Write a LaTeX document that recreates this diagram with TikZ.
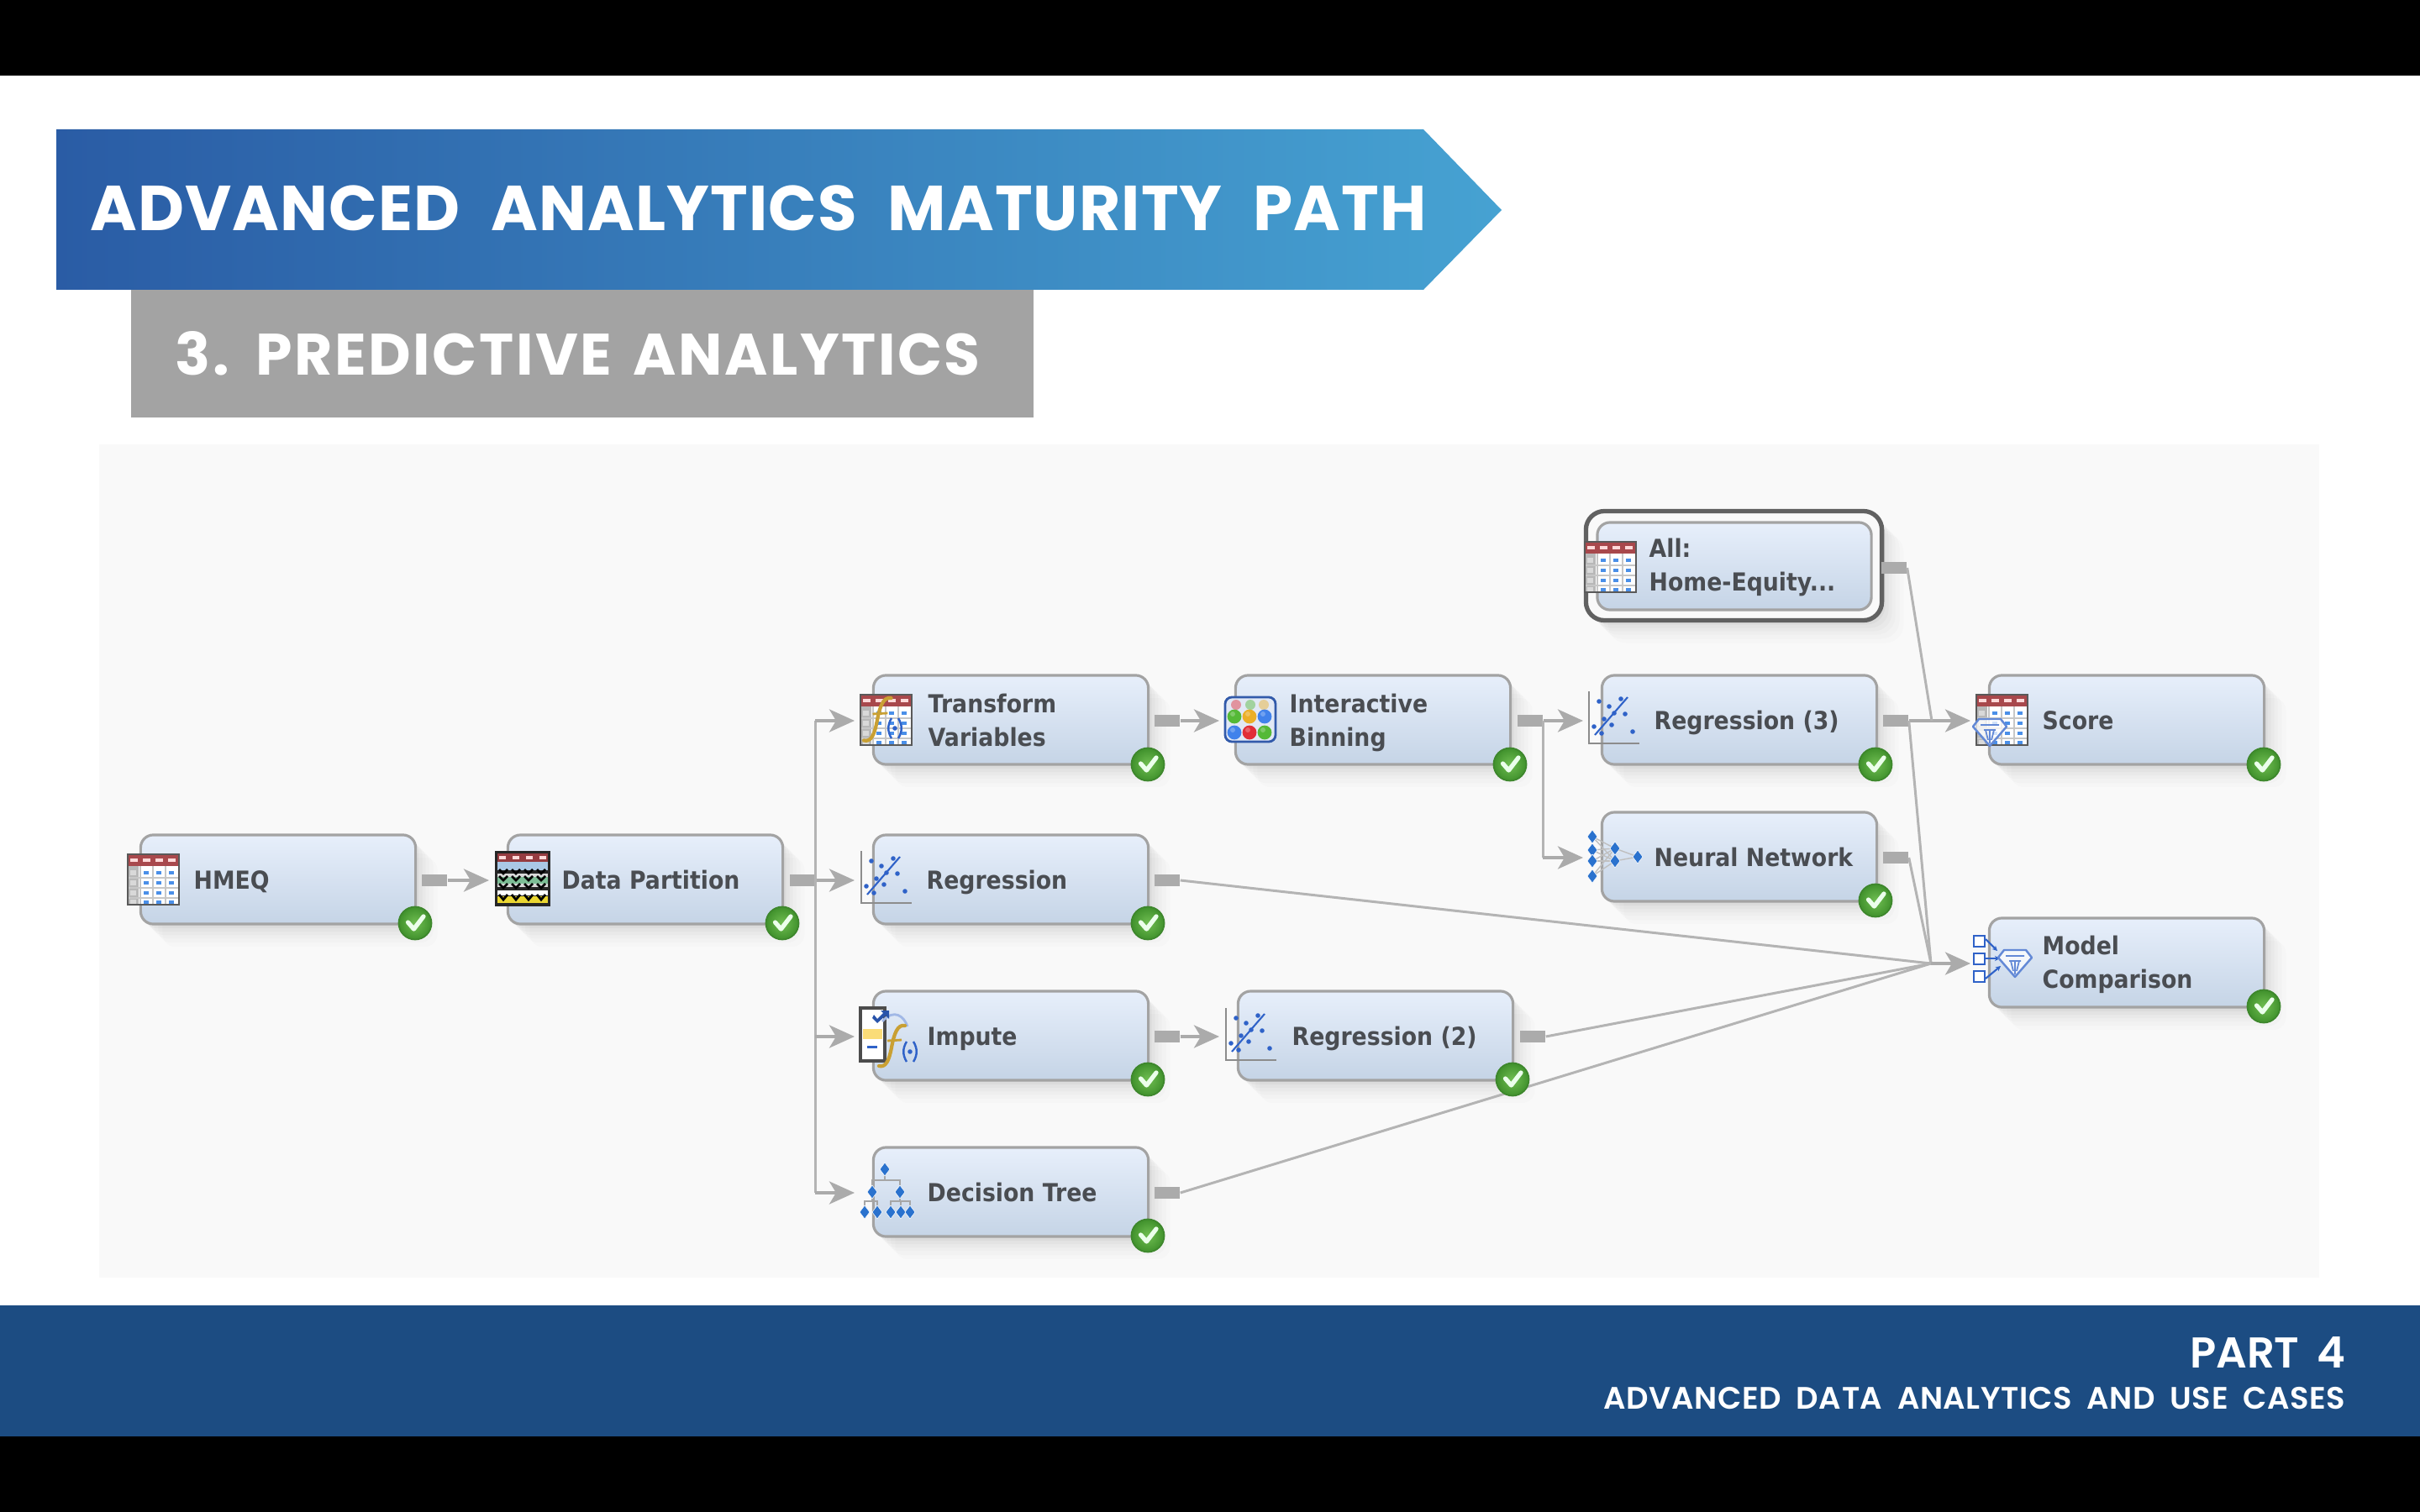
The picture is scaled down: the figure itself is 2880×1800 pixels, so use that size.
\documentclass[tikz,border=0pt]{standalone}
\usepackage{fontspec}
\setmainfont{Poppins}
\newfontfamily\titlefont{Poppins Bold}[LetterSpace=1.5,WordSpace=2.15]
\newfontfamily\subfont{Poppins Bold}[LetterSpace=3.6,WordSpace=1.5]
\newfontfamily\footfont{Poppins SemiBold}[LetterSpace=1.6,WordSpace=1.9]
\newfontfamily\partfont{Poppins SemiBold}[WordSpace=1.7]
\newfontfamily\boxfont{DejaVu Sans}[FakeStretch=0.905]
\usetikzlibrary{arrows.meta,shadows}
\definecolor{lnk}{HTML}{ABABAB}
\definecolor{lnkthin}{HTML}{B4B4B4}
\definecolor{tx}{HTML}{4A4D52}
\definecolor{icoblue}{HTML}{2F62C8}
\definecolor{celldot}{HTML}{4A8FE8}
\definecolor{gold}{HTML}{C9A033}
\definecolor{boxtop}{RGB}{231,239,251}
\definecolor{boxbot}{RGB}{197,212,230}
\definecolor{badgeline}{RGB}{62,135,45}
\definecolor{badgein}{RGB}{112,190,82}
\definecolor{badgeout}{RGB}{64,145,44}
\definecolor{cellred}{RGB}{168,72,76}
\definecolor{footblue}{RGB}{28,76,130}
\definecolor{banl}{RGB}{42,92,165}
\definecolor{banr}{RGB}{70,162,210}
\definecolor{subgray}{RGB}{163,163,163}
\definecolor{panel}{RGB}{249,249,249}
\definecolor{dpred}{RGB}{150,60,65}
\definecolor{dpblue}{RGB}{170,200,230}
\definecolor{dpgreen}{RGB}{125,190,150}
\definecolor{dpyellow}{RGB}{235,215,50}
\definecolor{imputey}{RGB}{250,220,120}
\definecolor{framef}{RGB}{225,232,245}
\definecolor{framed}{RGB}{50,90,170}
\definecolor{ballg}{RGB}{85,185,55}
\definecolor{ballo}{RGB}{235,175,40}
\definecolor{ballb}{RGB}{65,130,235}
\definecolor{ballr}{RGB}{225,45,55}
\tikzset{
 softshadow/.style={
  general shadow={fill=black,opacity=.012,shadow xshift=.26cm,shadow yshift=-.27cm},
  general shadow={fill=black,opacity=.014,shadow xshift=.21cm,shadow yshift=-.22cm},
  general shadow={fill=black,opacity=.016,shadow xshift=.16cm,shadow yshift=-.17cm},
  general shadow={fill=black,opacity=.02,shadow xshift=.12cm,shadow yshift=-.13cm},
  general shadow={fill=black,opacity=.025,shadow xshift=.08cm,shadow yshift=-.09cm},
  general shadow={fill=black,opacity=.03,shadow xshift=.04cm,shadow yshift=-.05cm}},
 flatbox/.style={draw=black!36,line width=.9pt,rounded corners=.15cm,minimum width=3.27cm,minimum height=1.06cm,inner sep=0pt,top color=boxtop,bottom color=boxbot},
 flowbox/.style={flatbox,softshadow},
 lab/.style={anchor=west,inner sep=0pt,yshift=-.035cm,text=tx,align=left,font=\boxfont\bfseries\fontsize{8.4}{11.2}\selectfont},
 port/.style={fill=lnk,minimum width=.30cm,minimum height=.14cm,inner sep=0pt},
 wire/.style={draw=lnkthin,line width=.85pt},
 arrowwire/.style={draw=lnk,line width=1.05pt,-{Stealth[length=.30cm,width=.27cm,inset=.08cm]}},
 badge/.style={circle,inner sep=0pt,minimum size=.39cm,draw=badgeline,line width=.5pt,inner color=badgein,outer color=badgeout},
}
% table icon, top-left at x,y, 61x60
\newcommand\tableicon[2]{\begin{scope}[shift={(#1,#2)}]
 \fill[white] (0,0) rectangle (61,60);
 \fill[cellred] (0,0) rectangle (61,14);
 \fill[black!28] (0,14) rectangle (13,60);
 \foreach \xx in {3,18,33,48}{\fill[white!85!red] (\xx,5) rectangle ++(9,4);}
 \foreach \yy in {22,34,46,57}{\fill[white!85!black] (3,\yy-3) rectangle ++(7,6);
  \foreach \xx in {22,37,52}{\fill[celldot] (\xx-3,\yy-2) rectangle ++(6,4);}}
 \foreach \xx in {15,30,45}{\draw[black!22,line width=.35pt] (\xx,14) -- (\xx,60);}
 \foreach \yy in {28,40,52}{\draw[black!22,line width=.35pt] (0,\yy) -- (61,\yy);}
 \draw[black!65,line width=.6pt] (0,0) rectangle (61,60);
\end{scope}}
% golden f
\newcommand\goldf[3]{\begin{scope}[shift={(#1,#2)},scale=#3]
 \draw[gold,line width=1.2pt,line cap=round] (0,50) .. controls (8,52) and (12,44) .. (15,28) .. controls (18,12) and (22,0) .. (31,2);
 \draw[gold,line width=.8pt] (10,20) -- (27,19);
\end{scope}}
% (.) glyph
\newcommand\parendot[2]{\begin{scope}[shift={(#1,#2)}]
 \draw[icoblue,line width=.7pt] (-4,-12) .. controls (-9,-4) and (-9,4) .. (-4,12);
 \draw[icoblue,line width=.7pt] (4,-12) .. controls (9,-4) and (9,4) .. (4,12);
 \fill[icoblue] (0,0) circle (2.8);
\end{scope}}
% regression icon, origin at axes corner
\newcommand\regicon[2]{\begin{scope}[shift={(#1,#2)}]
 \draw[black!45,line width=.7pt] (0,-62) -- (0,0) -- (60,0);
 \draw[icoblue,line width=.6pt] (7,-10) -- (46,-55);
 \foreach \px/\py in {12/-50,38/-53,43/-35,6/-20,18/-29,27/-22,15/-12,30/-36,52/-14,24/-44}{\fill[icoblue] (\px,\py) circle (2.8);}
\end{scope}}
\newcommand\bluediam[2]{\fill[icoblue!90!cyan,draw=white,line width=.15pt] (#1,#2-8) -- (#1+6,#2) -- (#1,#2+8) -- (#1-6,#2) -- cycle;}
\newcommand\gem[2]{\begin{scope}[shift={(#1,#2)}]
 \draw[icoblue!75!white,fill=white,fill opacity=.75,line width=.7pt,line join=round] (-13,-15) -- (13,-15) -- (20,-6) -- (0,17) -- (-20,-6) -- cycle;
 \draw[icoblue!75!white,line width=.5pt] (-11,-8) -- (11,-8) (-7,-2) -- (7,-2) (0,-2) -- (0,14) (-5,-2) -- (-2,10) (5,-2) -- (2,10);
\end{scope}}
\newcommand\checkmk[1]{\draw[white!92!green,line width=1.5pt,line cap=round,line join=round] ([xshift=-.085cm,yshift=.01cm]#1.center) -- ([xshift=-.015cm,yshift=-.07cm]#1.center) -- ([xshift=.10cm,yshift=.08cm]#1.center);}
\newcommand\st{\strut}
\begin{document}
\begin{tikzpicture}[x=.01cm,y=-.01cm]
\useasboundingbox (0,0) rectangle (2880,1800);
\fill[white] (0,0) rectangle (2880,1800);
\fill[black] (0,0) rectangle (2880,90);
\fill[black] (0,1710) rectangle (2880,1800);
\fill[footblue] (0,1554) rectangle (2880,1710);
% banner
\shade[left color=banl,right color=banr] (67,154) -- (1694,154) -- (1787,250) -- (1694,345) -- (67,345) -- cycle;
\fill[subgray] (156,345) rectangle (1230,497);
\node[anchor=west,inner sep=0pt,text=white,font=\titlefont\fontsize{21.5}{24}\selectfont] (title) at (107,248) {ADVANCED ANALYTICS MATURITY PATH};
\node[anchor=west,inner sep=0pt,text=white,font=\subfont\fontsize{19.8}{22}\selectfont] (subtitle) at (208,421) {3. PREDICTIVE ANALYTICS};
\node[anchor=east,inner sep=0pt,text=white,font=\partfont\fontsize{14.6}{18}\selectfont] (part) at (2792,1610) {PART 4};
\node[anchor=east,inner sep=0pt,text=white,font=\footfont\fontsize{10.5}{14}\selectfont] (partsub) at (2792,1665) {ADVANCED DATA ANALYTICS AND USE CASES};
% panel
\fill[panel] (118,529) rectangle (2760,1521);
% boxes
\node[flowbox] (hmeq) at (331,1047) {};
\node[flowbox] (dp) at (768,1047) {};
\node[flowbox] (tv) at (1203,857) {};
\node[flowbox] (reg) at (1203,1047) {};
\node[flowbox] (imp) at (1203,1233) {};
\node[flowbox] (dt) at (1203,1419) {};
\node[flowbox] (ib) at (1634,857) {};
\node[flowbox] (reg2) at (1637,1233) {};
\node[flowbox] (reg3) at (2070,857) {};
\node[flowbox] (nn) at (2070,1020) {};
\node[flowbox] (score) at (2531,857) {};
\node[flowbox] (mc) at (2531,1146) {};
\node[draw=black!62,line width=1.5pt,rounded corners=.22cm,minimum width=3.52cm,minimum height=1.30cm,inner sep=0pt,fill=panel,softshadow] (allo) at (2063.5,673.5) {};
\node[flatbox,minimum width=3.26cm,minimum height=1.04cm] (all) at (2064,674) {};
% labels
\node[lab] (l1) at (230,1047) {\st HMEQ};
\node[lab] (l2) at (668,1047) {\st Data Partition};
\node[lab] (l3) at (1104,857) {\st Transform\\\st Variables};
\node[lab] (l4) at (1102,1047) {\st Regression};
\node[lab] (l5) at (1103,1233) {\st Impute};
\node[lab] (l6) at (1103,1419) {\st Decision Tree};
\node[lab] (l7) at (1534,857) {\st Interactive\\\st Binning};
\node[lab] (l8) at (1537,1233) {\st Regression (2)};
\node[lab] (l9) at (1968,857) {\st Regression (3)};
\node[lab] (l10) at (1968,1020) {\st Neural Network};
\node[lab] (l11) at (1962,672) {\st All:\\\st Home-Equity...};
\node[lab] (l12) at (2430,857) {\st Score};
\node[lab] (l13) at (2430,1145) {\st Model\\\st Comparison};
% ports
\node[port] (p1) at (517,1048) {};
\node[port] (p2) at (955,1048) {};
\node[port] (p3) at (1389,858) {};
\node[port] (p4) at (1389,1048) {};
\node[port] (p5) at (1389,1234) {};
\node[port] (p6) at (1389,1420) {};
\node[port] (p7) at (1821,858) {};
\node[port] (p8) at (1824,1234) {};
\node[port] (p9) at (2256,858) {};
\node[port] (p10) at (2256,1021) {};
\node[port] (p11) at (2254,676) {};
% connector end points
\coordinate (t1) at (582,1048);
\coordinate (j2) at (970,1048);
\coordinate (t2a) at (1017,858);
\coordinate (t2b) at (1017,1048);
\coordinate (t2c) at (1017,1234);
\coordinate (t2d) at (1017,1420);
\coordinate (t3) at (1451,858);
\coordinate (t5) at (1451,1234);
\coordinate (j7) at (1836,858);
\coordinate (t7a) at (1884,858);
\coordinate (t7b) at (1884,1021);
\coordinate (j9) at (2299,858);
\coordinate (t9) at (2345,858);
\coordinate (jm) at (2298,1147);
\coordinate (tm) at (2345,1147);
% connectors
\draw[arrowwire] (p1.east) -- (t1);
\draw[arrowwire] (p2.east) -- (t2b);
\draw[wire] (j2 |- t2a) -- (j2 |- t2d);
\draw[arrowwire] (j2 |- t2a) -- (t2a);
\draw[arrowwire] (j2 |- t2c) -- (t2c);
\draw[arrowwire] (j2 |- t2d) -- (t2d);
\draw[arrowwire] (p3.east) -- (t3);
\draw[arrowwire] (p5.east) -- (t5);
\draw[arrowwire] (p7.east) -- (t7a);
\draw[wire] (j7) -- (j7 |- t7b);
\draw[arrowwire] (j7 |- t7b) -- (t7b);
\draw[arrowwire] (p9.east) -- (t9);
\draw[wire] (p11.east) -- (j9);
\draw[wire] (p9.east) -- (jm);
\draw[wire] (p10.east) -- (jm);
\draw[wire] (p4.east) -- (jm);
\draw[wire] (p8.east) -- (jm);
\draw[wire] (p6.east) -- (jm);
\draw[arrowwire] (jm) -- (tm);
% icons
\tableicon{152}{1017}
\tableicon{1886}{645}
% data partition
\begin{scope}[shift={(589,1013)}]
 \fill[black!85] (0,0) rectangle (66,66);
 \fill[dpred] (3,3) rectangle (63,13);
 \foreach \xx in {5,21,37,53}{\fill[white!85!red] (\xx,6) rectangle ++(8,4);}
 \fill[dpblue] (3,13) rectangle (63,23);
 \fill[white!85!black] (3,27) rectangle (63,43);
 \fill[dpgreen] (3,31) rectangle (63,39);
 \fill[white] (3,47) rectangle (63,53);
 \fill[dpyellow] (3,54) rectangle (63,62);
 \foreach \xx in {5,20,35,50}{
  \draw[black,line width=.8pt] (\xx,22) -- ++(5,5) -- ++(5,-5);
  \draw[black,line width=.8pt] (\xx,30) -- ++(5,5) -- ++(5,-5);
  \draw[black,line width=.8pt] (\xx,39) -- ++(5,5) -- ++(5,-5);
  \draw[black,line width=.8pt] (\xx,52) -- ++(5,6) -- ++(5,-6);}
\end{scope}
% transform
\tableicon{1024}{827}
\goldf{1028}{829}{1.05}
\parendot{1065}{867}
% regressions
\regicon{1025}{1075}
\regicon{1459}{1262}
\regicon{1891}{885}
% impute
\begin{scope}[shift={(1024,1200)}]
 \fill[white] (0,0) rectangle (29,63);
 \fill[imputey] (3,25) rectangle (26,37);
 \fill[icoblue] (8,45) rectangle (20,48);
 \draw[black!70,line width=.9pt] (0,0) rectangle (29,63);
 \draw[icoblue!45!white,line width=.8pt] (26,16) .. controls (40,0) and (52,10) .. (56,22);
 \fill[icoblue!85!black] (14,12) -- (20,18) -- (30,9) -- (34,13) -- (34,3) -- (24,3) -- (27,6) -- (20,13) -- (16,8) -- cycle;
\end{scope}
\goldf{1046}{1219}{1.0}
\parendot{1083}{1252}
% decision tree
\draw[black!35,line width=.5pt] (1053,1392) -- (1053,1405) (1038,1419) -- (1038,1405) -- (1071,1405) -- (1071,1419)
 (1029,1443) -- (1029,1430) -- (1044,1430) -- (1044,1443) (1038,1419) -- (1038,1430)
 (1060,1443) -- (1060,1430) -- (1083,1430) -- (1083,1443) (1072,1430) -- (1072,1443) (1071,1419) -- (1071,1430);
\foreach \dx/\dy in {1053/1392,1038/1419,1071/1419,1029/1443,1044/1443,1060/1443,1072/1443,1083/1443}{\bluediam{\dx}{\dy}}
% neural network
\foreach \ya in {996,1012,1025,1043}{\foreach \yb in {1010,1025}{\draw[black!25,line width=.4pt] (1895,\ya) -- (1922,\yb);}}
\foreach \yb in {1010,1025}{\draw[black!25,line width=.4pt] (1922,\yb) -- (1949,1020);}
\foreach \dx/\dy in {1895/996,1895/1012,1895/1025,1895/1043,1922/1010,1922/1025,1949/1020}{\bluediam{\dx}{\dy}}
% score
\tableicon{2352}{827}
\gem{2368}{871}
% model comparison
\foreach \yy in {1120,1141,1162}{\draw[icoblue,fill=white,line width=.8pt] (2349,\yy-6) rectangle ++(13,13);}
\draw[icoblue,line width=.6pt,-{Stealth[length=.06cm,width=.06cm]}] (2363,1118) -- (2377,1132);
\draw[icoblue,line width=.6pt,-{Stealth[length=.06cm,width=.06cm]}] (2363,1141) -- (2380,1141);
\draw[icoblue,line width=.6pt,-{Stealth[length=.06cm,width=.06cm]}] (2363,1165) -- (2381,1150);
\gem{2398}{1146}
% interactive binning
\begin{scope}[shift={(1458,830)}]
 \fill[framef,draw=framed,rounded corners=.08cm,line width=.8pt] (0,0) rectangle (60,53);
 \foreach \cx/\cc in {13/ballr,30/ballg,46/ballo}{\fill[\cc,opacity=.45] (\cx,9) circle (6);}
 \foreach \cx/\cy/\cc in {11/23/ballg,29/23/ballo,47/23/ballb,11/42/ballb,29/42/ballr,47/42/ballg}{\fill[\cc] (\cx,\cy) circle (8.4); \fill[white,opacity=.25] (\cx-2,\cy-3) circle (3);}
\end{scope}
% badges
\node[badge] (b1) at (494,1099) {}; \checkmk{b1}
\node[badge] (b2) at (931,1099) {}; \checkmk{b2}
\node[badge] (b3) at (1366,910) {}; \checkmk{b3}
\node[badge] (b4) at (1366,1099) {}; \checkmk{b4}
\node[badge] (b5) at (1366,1285) {}; \checkmk{b5}
\node[badge] (b6) at (1366,1471) {}; \checkmk{b6}
\node[badge] (b7) at (1797,910) {}; \checkmk{b7}
\node[badge] (b8) at (1800,1285) {}; \checkmk{b8}
\node[badge] (b9) at (2232,910) {}; \checkmk{b9}
\node[badge] (b10) at (2232,1072) {}; \checkmk{b10}
\node[badge] (b11) at (2694,910) {}; \checkmk{b11}
\node[badge] (b12) at (2694,1198) {}; \checkmk{b12}
\end{tikzpicture}
\end{document}
